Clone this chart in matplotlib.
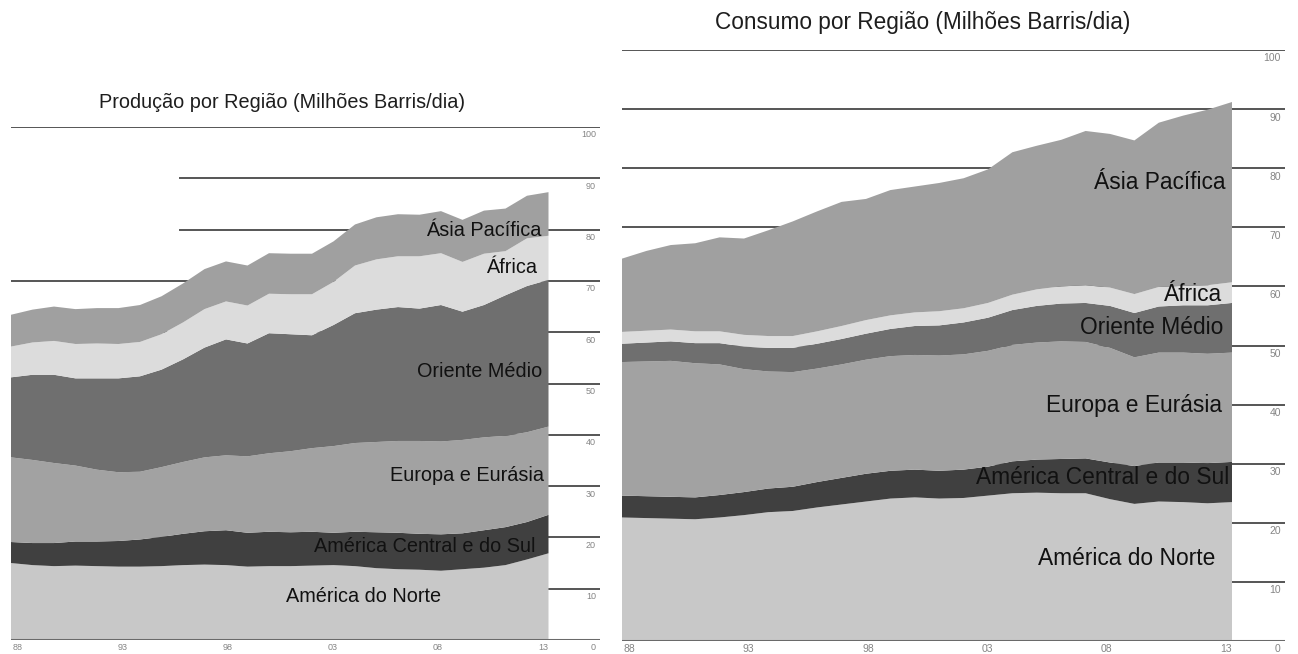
import matplotlib
matplotlib.use("Agg")
import matplotlib.pyplot as plt
import numpy as np

plt.rcParams['font.family'] = ['Liberation Sans', 'DejaVu Sans']

years = list(range(1988, 2014))
regions = ["América do Norte", "América Central e do Sul", "Europa e Eurásia",
           "Oriente Médio", "África", "Ásia Pacífica"]

# producao, milhoes barris/dia
prod_na = [15.0, 14.6, 14.4, 14.5, 14.4, 14.3, 14.3, 14.4, 14.6, 14.7, 14.6, 14.3, 14.4,
           14.4, 14.5, 14.6, 14.4, 14.0, 13.8, 13.7, 13.5, 13.8, 14.1, 14.6, 15.7, 16.9]
prod_sa = [4.1, 4.3, 4.5, 4.7, 4.8, 5.0, 5.3, 5.7, 6.1, 6.5, 6.8, 6.6, 6.7,
           6.6, 6.6, 6.3, 6.7, 7.0, 7.1, 7.0, 7.1, 7.0, 7.3, 7.4, 7.3, 7.5]
prod_eu = [16.5, 16.2, 15.6, 14.8, 14.0, 13.4, 13.2, 13.6, 14.0, 14.4, 14.6, 14.9, 15.3,
           15.8, 16.3, 16.9, 17.3, 17.6, 17.9, 18.1, 18.1, 18.2, 18.1, 17.8, 17.5, 17.2]
prod_me = [15.6, 16.6, 17.2, 17.0, 17.8, 18.3, 18.6, 19.0, 20.0, 21.4, 22.6, 22.0, 23.4,
           22.8, 22.0, 23.6, 25.3, 25.8, 26.1, 25.8, 26.6, 25.0, 25.8, 27.4, 28.5, 28.6]
prod_af = [6.0, 6.3, 6.6, 6.7, 6.8, 6.7, 6.7, 6.9, 7.2, 7.5, 7.4, 7.4, 7.7,
           7.8, 8.0, 8.4, 9.3, 9.8, 9.9, 10.2, 10.1, 9.7, 10.0, 8.6, 9.3, 8.6]
prod_as = [6.2, 6.4, 6.7, 6.8, 6.9, 7.0, 7.2, 7.4, 7.6, 7.8, 7.8, 7.8, 7.9,
           7.9, 7.9, 7.9, 8.0, 8.2, 8.2, 8.1, 8.2, 8.2, 8.4, 8.3, 8.3, 8.5]

# consumo, milhoes barris/dia
cons_na = [20.9, 20.8, 20.7, 20.6, 20.9, 21.3, 21.8, 22.0, 22.6, 23.1, 23.6, 24.1, 24.3,
           24.1, 24.2, 24.6, 25.0, 25.1, 25.0, 25.0, 24.0, 23.2, 23.6, 23.5, 23.3, 23.5]
cons_sa = [3.7, 3.7, 3.7, 3.7, 3.8, 3.9, 4.0, 4.1, 4.3, 4.5, 4.7, 4.7, 4.7,
           4.7, 4.8, 4.9, 5.4, 5.6, 5.8, 5.9, 6.2, 6.4, 6.6, 6.7, 6.8, 6.8]
cons_eu = [22.6, 22.8, 23.0, 22.7, 22.1, 20.8, 19.8, 19.4, 19.2, 19.2, 19.3, 19.4, 19.4,
           19.5, 19.5, 19.6, 19.7, 19.8, 19.9, 19.7, 19.4, 18.4, 18.6, 18.6, 18.5, 18.5]
cons_me = [3.1, 3.2, 3.3, 3.4, 3.6, 3.8, 4.0, 4.1, 4.2, 4.3, 4.4, 4.6, 4.9,
           5.1, 5.4, 5.6, 5.9, 6.2, 6.4, 6.6, 7.1, 7.5, 7.8, 8.0, 8.2, 8.4]
cons_af = [2.0, 2.0, 2.0, 2.0, 2.0, 2.0, 2.0, 2.0, 2.1, 2.2, 2.3, 2.3, 2.3,
           2.4, 2.4, 2.5, 2.6, 2.8, 2.9, 3.0, 3.1, 3.2, 3.3, 3.3, 3.4, 3.5]
cons_as = [12.4, 13.5, 14.3, 14.9, 15.9, 16.3, 17.9, 19.4, 20.3, 21.0, 20.5, 21.2, 21.3,
           21.7, 22.0, 22.6, 24.1, 24.3, 24.8, 26.1, 26.0, 26.0, 27.8, 28.8, 29.7, 30.5]

year_labels = ["88", "93", "98", "03", "08", "13"]
y_ticks = list(range(0, 101, 10))

colors = ['#c8c8c8', '#404040', '#a2a2a2', '#6f6f6f', '#dcdcdc', '#a0a0a0']
grid_col = '#555555'
text_col = '#111111'

fig = plt.figure(figsize=(12.98, 6.54), dpi=100)
W, H = 1298, 654


def make_axes(left, right, bottom, top):
    return fig.add_axes([left / W, (H - bottom) / H, (right - left) / W, (bottom - top) / H])


ax1 = make_axes(11, 600, 640, 127)
ax2 = make_axes(622, 1285, 641, 50)

ax1.set_xlim(1988, 1988 + 589 / 21.5)
ax2.set_xlim(1988, 1988 + 663 / 24.4)

for ax in (ax1, ax2):
    ax.set_ylim(0, 100)
    ax.set_axis_off()


def draw(ax, series, tick_fs, skip_from=None):
    for v in y_ticks[1:]:
        xmin = 0
        if skip_from and v in skip_from:
            xmin = skip_from[v]
        ax.axhline(v, xmin=xmin, xmax=1, color=grid_col, lw=1.4, zorder=1)
    ax.stackplot(years, *series, colors=colors, lw=0, zorder=2)
    ax.axhline(0, color='#6a6a6a', lw=2.2, zorder=3)
    for v in y_ticks:
        ax.annotate(str(v), xy=(1, v), xycoords=('axes fraction', 'data'),
                    xytext=(-3, -2.5), textcoords='offset points',
                    ha='right', va='top', fontsize=tick_fs, color='#858585')
    n = len(year_labels)
    for i, lab in enumerate(year_labels):
        x = 1988.3 + i * (24.45 / (n - 1))
        ax.annotate(lab, xy=(x, 0), xytext=(0, -2.5), textcoords='offset points',
                    ha='center', va='top', fontsize=tick_fs, color='#858585')


draw(ax1, [prod_na, prod_sa, prod_eu, prod_me, prod_af, prod_as], 6.5,
     skip_from={90: 169 / 589, 80: 169 / 589})
draw(ax2, [cons_na, cons_sa, cons_eu, cons_me, cons_af, cons_as], 7.5)

# rotulos das regioes
lab_left = [(2004.4, 8.4, 'center'), (2012.4, 18.3, 'right'), (2012.8, 32.0, 'right'),
            (2012.7, 52.4, 'right'), (2012.47, 72.7, 'right'), (2012.65, 79.9, 'right')]
lab_right = [(2012.3, 14.0, 'right'), (2012.9, 27.6, 'right'), (2012.6, 39.9, 'right'),
             (2012.66, 53.1, 'right'), (2012.6, 58.7, 'right'), (2012.75, 77.5, 'right')]

for name, (x, y, ha) in zip(regions, lab_left):
    ax1.text(x, y, name, ha=ha, va='center', fontsize=14.3, color=text_col, zorder=4)
for name, (x, y, ha) in zip(regions, lab_right):
    ax2.text(x, y, name, ha=ha, va='center', fontsize=16.4, color=text_col, zorder=4)

fig.text(282 / W, (H - 103) / H, "Produção por Região (Milhões Barris/dia)",
         ha='center', va='center', fontsize=14.3, color='#1e1e1e')
fig.text(923 / W, (H - 22) / H, "Consumo por Região (Milhões Barris/dia)",
         ha='center', va='center', fontsize=16.3, color='#1e1e1e')

fig.savefig("out.png", dpi=100, facecolor='white')
